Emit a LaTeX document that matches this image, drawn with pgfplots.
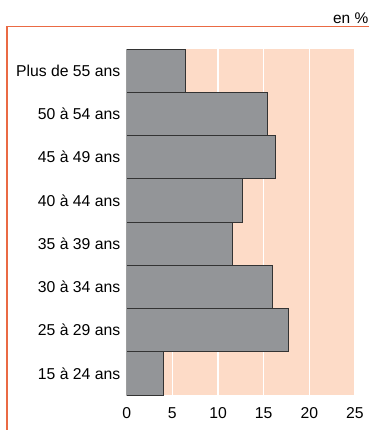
\documentclass[border=0pt]{standalone}
\usepackage{pgfplots}
\pgfplotsset{compat=1.18}
\usepackage{fontspec}
\setmainfont{Liberation Sans}
\definecolor{peach}{HTML}{FDDBC7}
\definecolor{bargray}{HTML}{939598}
\definecolor{frameorange}{HTML}{EA6A44}
\begin{document}
\begin{tikzpicture}[x=1bp,y=1bp]
\useasboundingbox (0,0) rectangle (369,430);
% frame
\draw[frameorange, line width=1.4bp] (7,0) -- (7,403.3) -- (369,403.3);
\node[anchor=base east, font=\fontsize{15.5}{18}\selectfont, inner sep=0pt] at (368.5,406) {en \%};
\begin{axis}[
  at={(126.7bp,35bp)}, anchor=south west,
  scale only axis, width=228.3bp, height=346bp,
  xbar, bar width=1,
  xmin=0, xmax=25, ymin=-0.5, ymax=7.5,
  axis line style={draw=none},
  axis background/.style={fill=peach},
  xtick={0,5,10,15,20,25},
  ytick={0,1,2,3,4,5,6,7},
  yticklabels={15 à 24 ans,25 à 29 ans,30 à 34 ans,35 à 39 ans,40 à 44 ans,45 à 49 ans,50 à 54 ans,Plus de 55 ans},
  major tick length=0pt,
  xmajorgrids, grid style={white, line width=1.2bp},
  ticklabel style={font=\fontsize{15.8}{18}\selectfont},
  /pgf/number format/assume math mode=true,
  xticklabel style={yshift=-9bp},
  yticklabel style={xshift=-3bp},
]
\addplot[fill=bargray, draw=black!80, line width=0.9bp] coordinates {
  (4.0,0) (17.7,1) (16.0,2) (11.6,3) (12.7,4) (16.3,5) (15.4,6) (6.4,7)
};
\end{axis}
\end{tikzpicture}
\end{document}
